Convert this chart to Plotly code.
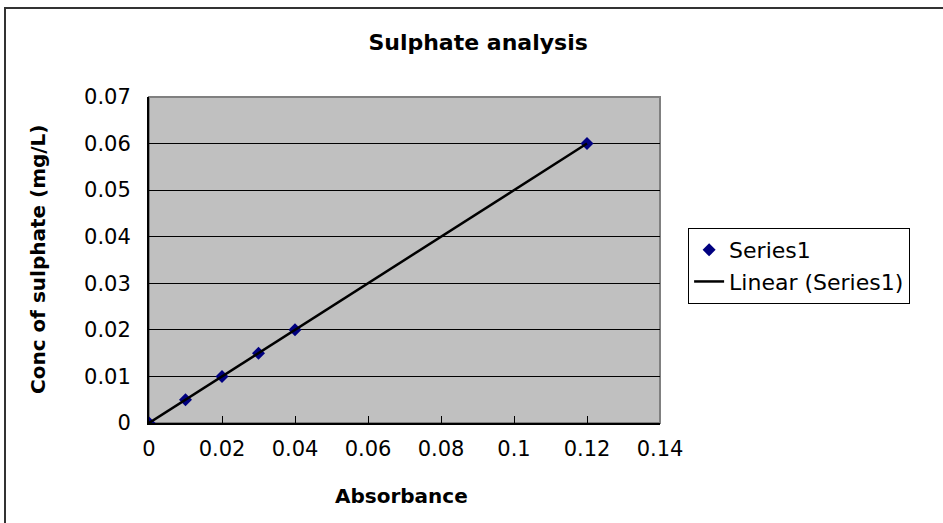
import numpy as np
import plotly.graph_objects as go

absorbance = [0.0, 0.01, 0.02, 0.03, 0.04, 0.12]
conc = [0.0, 0.005, 0.01, 0.015, 0.02, 0.06]
x_ticks = [0, 0.02, 0.04, 0.06, 0.08, 0.1, 0.12, 0.14]
x_tick_text = ["0", "0.02", "0.04", "0.06", "0.08", "0.1", "0.12", "0.14"]
y_ticks = [0, 0.01, 0.02, 0.03, 0.04, 0.05, 0.06, 0.07]
y_tick_text = ["0", "0.01", "0.02", "0.03", "0.04", "0.05", "0.06", "0.07"]

slope, intercept = np.polyfit(absorbance, conc, 1)
trend_x = [min(absorbance), max(absorbance)]
trend_y = [slope * v + intercept for v in trend_x]

FONT = "DejaVu Sans"

fig = go.Figure()
fig.add_trace(go.Scatter(
    x=absorbance, y=conc, mode="markers", name="Series1",
    marker=dict(symbol="diamond", size=10, color="#000080", line=dict(width=0)),
))
fig.add_trace(go.Scatter(
    x=trend_x, y=trend_y, mode="lines", name="Linear (Series1)",
    line=dict(color="black", width=2.5),
))

fig.update_layout(
    width=943, height=523,
    margin=dict(l=149, r=283, t=97, b=100),
    paper_bgcolor="white",
    plot_bgcolor="#C0C0C0",
    font=dict(family=FONT, color="black"),
    title=dict(text="<b>Sulphate analysis</b>", font=dict(size=22, family=FONT, color="black"),
               x=0.507, xanchor="center", xref="container",
               y=1 - 42 / 523, yanchor="middle", yref="container"),
    showlegend=True,
    legend=dict(x=1.055, y=0.598, xanchor="left", yanchor="top",
                bgcolor="white", bordercolor="black", borderwidth=1,
                font=dict(size=22, family=FONT, color="black"),
                tracegroupgap=0, itemwidth=30),
    xaxis=dict(range=[0, 0.14], tickvals=x_ticks, ticktext=x_tick_text,
               showgrid=False, zeroline=False,
               showline=True, linecolor="black", linewidth=2,
               ticks="inside", ticklen=7, tickcolor="black", tickwidth=1,
               tickfont=dict(size=21, family=FONT, color="black"),
               ticklabelstandoff=6),
    yaxis=dict(range=[0, 0.07], tickvals=y_ticks, ticktext=y_tick_text,
               showgrid=True, gridcolor="black", gridwidth=1, zeroline=False,
               showline=True, linecolor="black", linewidth=2,
               ticks="inside", ticklen=7, tickcolor="black", tickwidth=1,
               tickfont=dict(size=21, family=FONT, color="black"),
               ticklabelstandoff=12),
    shapes=[
        dict(type="rect", xref="paper", yref="paper", x0=0, x1=1, y0=0, y1=1,
             line=dict(color="#808080", width=2), layer="below"),
        dict(type="rect", xref="paper", yref="paper",
             x0=(5 - 149) / 511, x1=1.7, y0=-0.6, y1=(423 - 8) / 326,
             line=dict(color="#333333", width=2), layer="above"),
    ],
    annotations=[
        dict(text="<b>Absorbance</b>", xref="paper", yref="paper",
             x=(401 - 149) / 511, y=-(496 - 423) / 326, xanchor="center", yanchor="middle",
             showarrow=False, font=dict(size=20, family=FONT, color="black")),
        dict(text="<b>Conc of sulphate (mg/L)</b>", xref="paper", yref="paper",
             x=(38 - 149) / 511, y=(423 - 259) / 326, xanchor="center", yanchor="middle",
             textangle=-90, showarrow=False, font=dict(size=20, family=FONT, color="black")),
    ],
)

fig.write_html("out.html",
               config={"displayModeBar": False},
               post_script="document.body.style.margin='0';document.body.style.overflow='hidden';")
